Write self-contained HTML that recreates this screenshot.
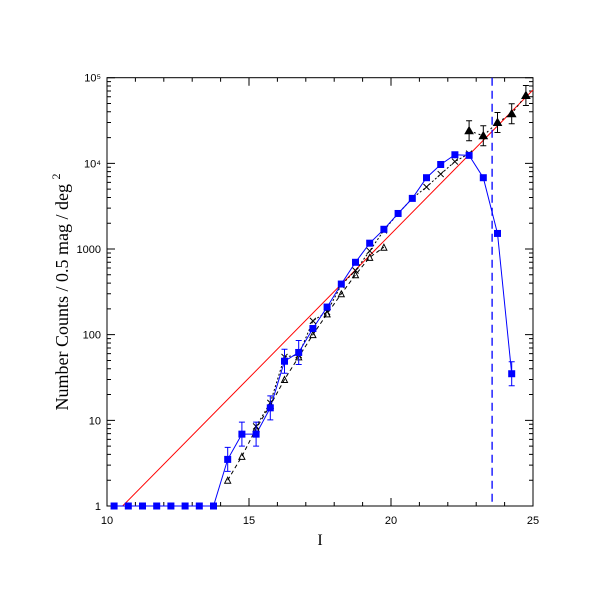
<!DOCTYPE html>
<html><head><meta charset="utf-8"><style>
html,body{margin:0;padding:0;background:#fff;width:611px;height:611px;overflow:hidden}
text{font-family:"Liberation Sans",sans-serif}
</style></head><body>
<svg id="chart" width="611" height="611" xmlns="http://www.w3.org/2000/svg">
<g id="axes"></g>
<g id="series"></g>
<text x="320" y="545" font-size="16" text-anchor="middle" style="font-family:'Liberation Serif',serif">I</text>
<text transform="translate(68,292) rotate(-90)" font-size="18" text-anchor="middle" style="font-family:'Liberation Serif',serif">Number Counts / 0.5 mag / deg <tspan dy="-8" font-size="12">2</tspan></text>
</svg>
<script>
const blueI=[10.25,10.75,11.25,11.75,12.25,12.75,13.25,13.75,14.25,14.75,15.25,15.75,16.25,16.75,17.25,17.75,18.25,18.75,19.25,19.75,20.25,20.75,21.25,21.75,22.25,22.75,23.25,23.75,24.25];
const blueN=[1,1,1,1,1,1,1,1,3.5,6.9,6.9,14,49,62,118,210,390,700,1170,1700,2600,3900,6800,9700,12600,12400,6800,1520,35];
const crossI=[15.25,15.75,16.25,16.75,17.25,17.75,18.25,18.75,19.25,19.75,20.25,20.75,21.25,21.75,22.25,22.75];
const crossN=[8.5,16,55,58,145,185,380,560,950,1650,2600,3900,5300,7500,10500,13000];
const openTriI=[14.25,14.75,15.25,15.75,16.25,16.75,17.25,17.75,18.25,18.75,19.25,19.75];
const openTriN=[2,3.8,8,15,30,55,100,175,300,500,800,1050];
const fillTriI=[22.75,23.25,23.75,24.25,24.75];
const fillTriN=[24000,21000,30000,38000,62000];
const redLineI=[10.55,25];
const redLineN=[1,72000];
const cutI=23.56;
const xTicks=[10,15,20,25];
const yTickLabels=["1","10","100","1000","10⁴","10⁵"];
const X0=107,X1=533,Y0=506,Y1=77.7;
function xs(v){return X0+(v-10)/15*(X1-X0);}
function ys(v){return Y0-Math.log10(v)/5*(Y0-Y1);}
const NS="http://www.w3.org/2000/svg";
function mk(tag,attrs,parent){const e=document.createElementNS(NS,tag);for(const k in attrs)e.setAttribute(k,attrs[k]);parent.appendChild(e);return e;}
const ax=document.getElementById('axes'),sr=document.getElementById('series');
const frame=mk('rect',{x:X0,y:Y1,width:X1-X0,height:Y0-Y1,fill:'none',stroke:'#000','stroke-width':1},ax);


for(let v=10;v<=25;v++){const maj=v%5===0,L=maj?8:4,x=xs(v);
 const t=mk('path',{d:`M${x},${Y0}v${-L}M${x},${Y1}v${L}`,stroke:'#000','stroke-width':1},ax);
 
 }
xTicks.forEach(v=>{const t=mk('text',{x:xs(v),y:Y0+18,'font-size':11,'text-anchor':'middle'},ax);t.textContent=v;
 
 });
for(let d=0;d<5;d++)for(let m=1;m<=9;m++){const v=m*Math.pow(10,d),y=ys(v),L=m===1?8:4;
 const t=mk('path',{d:`M${X0},${y}h${L}M${X1},${y}h${-L}`,stroke:'#000','stroke-width':1},ax);
 
 }
mk('path',{d:`M${X0},${Y1}h8M${X1},${Y1}h-8`,stroke:'#000'},ax);
yTickLabels.forEach((s,i)=>{const t=mk('text',{x:X0-6,y:ys(Math.pow(10,i))+4,'font-size':11,'text-anchor':'end'},ax);t.textContent=s;
 
 });
const rl=mk('line',{x1:xs(redLineI[0]),y1:ys(redLineN[0]),x2:xs(redLineI[1]),y2:ys(redLineN[1]),stroke:'#f00','stroke-width':1},sr);


const cl=mk('line',{x1:xs(cutI),y1:Y1,x2:xs(cutI),y2:Y0,stroke:'#00f','stroke-width':1.3,'stroke-dasharray':'8,5'},sr);


function poly(I,N,attrs,name){const p=mk('polyline',Object.assign({points:I.map((v,i)=>xs(v)+','+ys(N[i])).join(' '),fill:'none'},attrs),sr);
 
 }
poly(openTriI,openTriN,{stroke:'#000','stroke-dasharray':'4,3'},'open-triangle-line');
poly(crossI,crossN,{stroke:'#000','stroke-dasharray':'2,2'},'cross-line');
poly(fillTriI,fillTriN,{stroke:'#000','stroke-dasharray':'2,3'},'filled-triangle-line');
poly(blueI,blueN,{stroke:'#00f'},'blue-line');
openTriI.forEach((v,i)=>{const x=xs(v),y=ys(openTriN[i]);
 const e=mk('path',{d:`M${x-3},${y+3}L${x},${y-3}L${x+3},${y+3}Z`,fill:'none',stroke:'#000'},sr);
 
 });
crossI.forEach((v,i)=>{const x=xs(v),y=ys(crossN[i]);
 const e=mk('path',{d:`M${x-3},${y-3}L${x+3},${y+3}M${x+3},${y-3}L${x-3},${y+3}`,stroke:'#000'},sr);
 
 });
fillTriI.forEach((v,i)=>{const x=xs(v),y=ys(fillTriN[i]);
 const e=mk('path',{d:`M${x-4},${y+3}L${x},${y-4}L${x+4},${y+3}Z M${x},${y-10}v20M${x-3},${y-10}h6M${x-3},${y+10}h6`,fill:'#000',stroke:'#000'},sr);
 
 });
blueI.forEach((v,i)=>{const x=xs(v),y=ys(blueN[i]);
 if(blueN[i]>1&&blueN[i]<100){const eb=mk('path',{d:`M${x},${y-12}v24M${x-3},${y-12}h6M${x-3},${y+12}h6`,stroke:'#00f'},sr);
  
  }
 const e=mk('rect',{x:x-3.5,y:y-3.5,width:7,height:7,fill:'#00f'},sr);
 
 });
</script>
</body></html>
